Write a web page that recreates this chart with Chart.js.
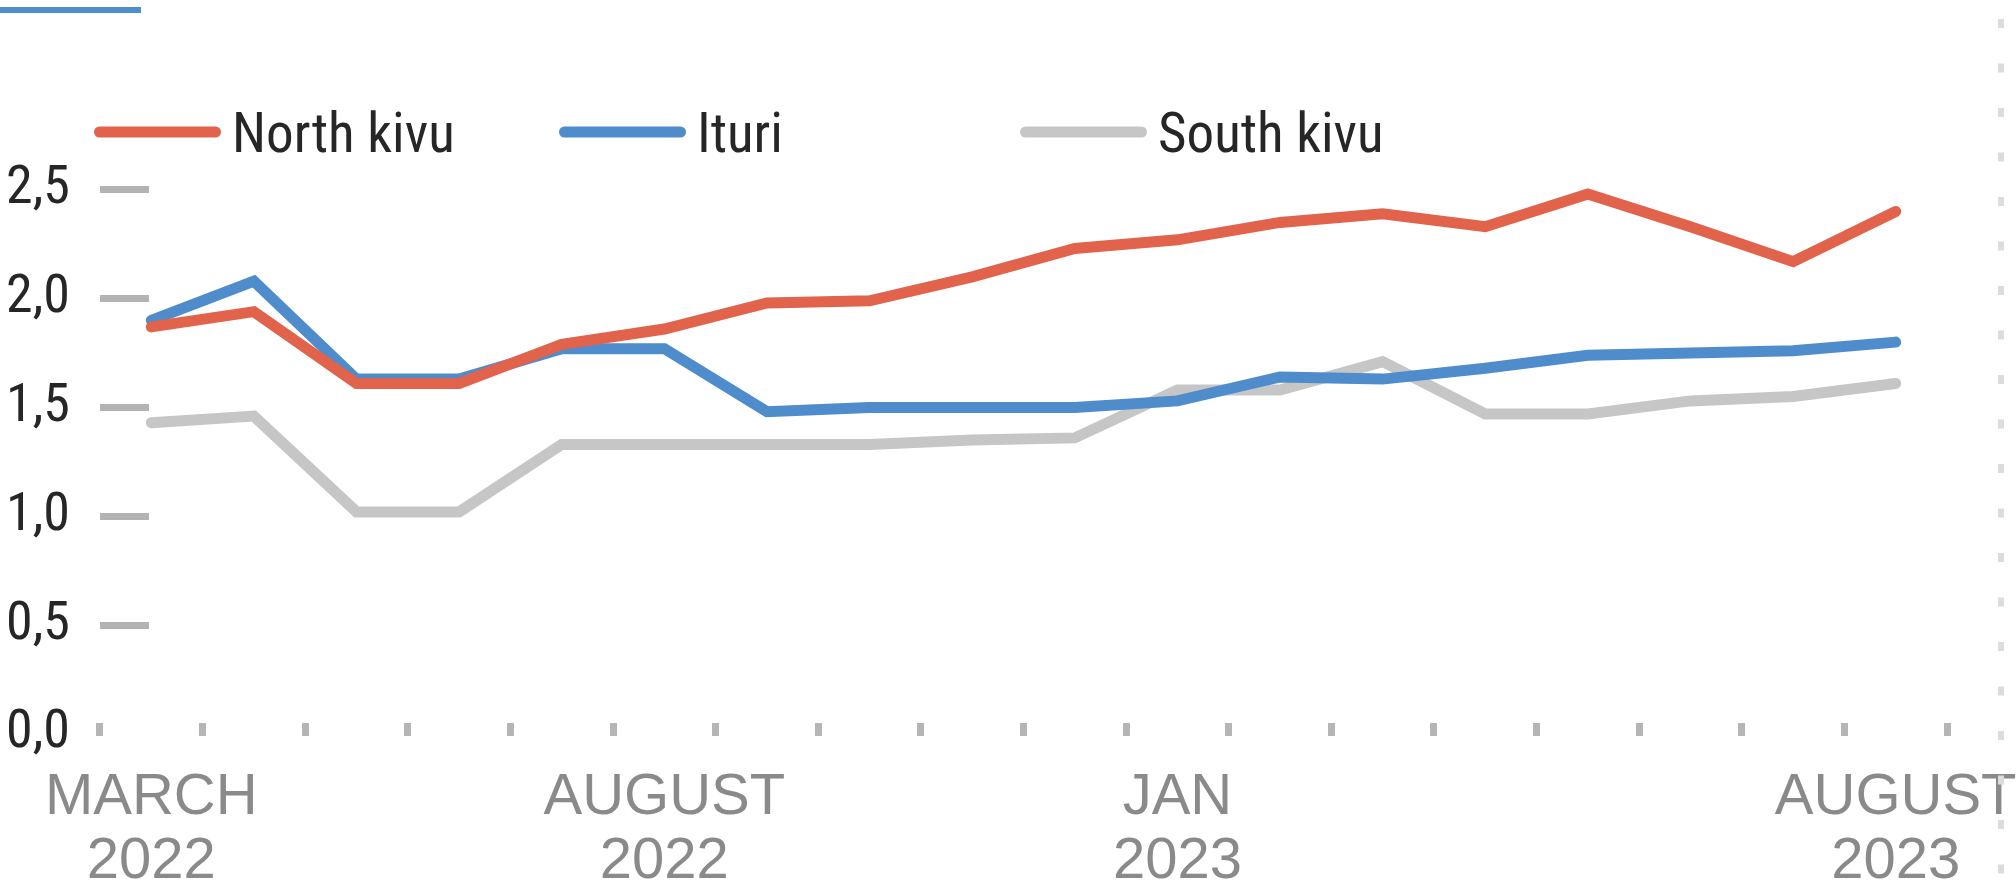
<!DOCTYPE html>
<html>
<head>
<meta charset="utf-8">
<script src="https://cdn.jsdelivr.net/npm/chart.js@4.4.0/dist/chart.umd.min.js"></script>
<style>
	html, body { margin: 0; padding: 0; background: #fff; }
	#wrap { width: 2016px; height: 893px; position: relative; }
</style>
</head>
<body>
<div id="wrap"><canvas id="provinceChart"></canvas></div>
<script>
// Monthly values, March 2022 - August 2023
const months = ['Mar 2022', 'Apr 2022', 'May 2022', 'Jun 2022', 'Jul 2022', 'Aug 2022', 'Sep 2022', 'Oct 2022', 'Nov 2022',
	'Dec 2022', 'Jan 2023', 'Feb 2023', 'Mar 2023', 'Apr 2023', 'May 2023', 'Jun 2023', 'Jul 2023', 'Aug 2023'];

const xLabels = [['MARCH', '2022'], '', '', '', '', ['AUGUST', '2022'], '', '', '', '', ['JAN', '2023'], '', '', '', '', '', '', ['AUGUST', '2023']];

const northKivu = [1.87, 1.94, 1.61, 1.61, 1.79, 1.86, 1.98, 1.99, 2.10, 2.23, 2.27, 2.35, 2.39, 2.33, 2.48, 2.33, 2.17, 2.40];
const ituri = [1.90, 2.08, 1.63, 1.63, 1.77, 1.77, 1.48, 1.50, 1.50, 1.50, 1.53, 1.64, 1.63, 1.68, 1.74, 1.75, 1.76, 1.80];
const southKivu = [1.43, 1.46, 1.02, 1.02, 1.33, 1.33, 1.33, 1.33, 1.35, 1.36, 1.58, 1.58, 1.71, 1.47, 1.47, 1.53, 1.55, 1.61];

const yTicks = [0, 0.5, 1, 1.5, 2, 2.5];

const narrowFont = "'Liberation Sans Narrow', 'Roboto Condensed', 'Arial Narrow', 'DejaVu Sans Condensed', sans-serif";
const wideFont = "'Liberation Sans', Arial, sans-serif";

// legend columns (left edge of each sample line)
const legendCols = [94, 559, 1020];

const decor = {
	id: 'decor',
	afterDraw(chart) {
		const ctx = chart.ctx;
		ctx.save();
		// short blue rule in the top-left corner
		ctx.fillStyle = '#4f8dcb';
		ctx.fillRect(0, 7, 141, 6);
		// dotted right border
		ctx.strokeStyle = '#dcdcdc';
		ctx.lineWidth = 6;
		ctx.setLineDash([9, 35.5]);
		ctx.beginPath();
		ctx.moveTo(2001, 19);
		ctx.lineTo(2001, 893);
		ctx.stroke();
		ctx.setLineDash([]);
		// legend
		chart.data.datasets.forEach((ds, i) => {
			const x = legendCols[i];
			ctx.strokeStyle = ds.borderColor;
			ctx.lineWidth = 11;
			ctx.lineCap = 'round';
			ctx.beginPath();
			ctx.moveTo(x + 5.5, 132);
			ctx.lineTo(x + 121.5, 132);
			ctx.stroke();
			ctx.fillStyle = '#262626';
			ctx.font = '55px ' + narrowFont;
			ctx.textBaseline = 'alphabetic';
			ctx.textAlign = 'left';
			ctx.fillText(ds.label, x + 138, 152);
		});
		ctx.restore();
	}
};

const lineStyle = {
	borderWidth: 11,
	pointRadius: 0,
	pointHoverRadius: 0,
	tension: 0,
	borderCapStyle: 'round',
	borderJoinStyle: 'miter',
	fill: false
};

new Chart(document.getElementById('provinceChart').getContext('2d'), {
	type: 'line',
	data: {
		labels: months,
		datasets: [
			{ label: 'North kivu', data: northKivu, borderColor: '#e2634c', ...lineStyle },
			{ label: 'Ituri', data: ituri, borderColor: '#4e8ccb', ...lineStyle },
			{ label: 'South kivu', data: southKivu, borderColor: '#c6c6c6', ...lineStyle }
		]
	},
	options: {
		responsive: true,
		maintainAspectRatio: false,
		devicePixelRatio: 1,
		animation: false,
		layout: { padding: { top: 168, right: 69, bottom: 0, left: 0 } },
		plugins: {
			legend: { display: false },
			tooltip: { enabled: false }
		},
		scales: {
			x: {
				type: 'category',
				offset: true,
				border: { display: false },
				grid: {
					offset: true,
					drawOnChartArea: false,
					drawTicks: true,
					tickLength: 13,
					tickWidth: 7,
					tickColor: '#b5b5b5'
				},
				ticks: {
					autoSkip: false,
					maxRotation: 0,
					minRotation: 0,
					padding: 30,
					color: '#8a8a8a',
					font: { family: wideFont, size: 58, lineHeight: 1.1 },
					callback: (value, index) => xLabels[index]
				},
				afterFit: scale => {
					scale.height = 170;
					scale.paddingLeft = 0;
					scale.paddingRight = 0;
				}
			},
			y: {
				min: 0.05,
				max: 2.6,
				border: { display: false },
				grid: {
					drawOnChartArea: false,
					drawTicks: true,
					tickLength: -49,
					tickWidth: 7,
					tickColor: ctx => ctx.tick && ctx.tick.value === 0 ? 'rgba(0,0,0,0)' : '#b3b3b3'
				},
				afterBuildTicks: axis => { axis.ticks = yTicks.map(v => ({ value: v })); },
				ticks: {
					padding: 79,
					color: '#262626',
					font: { family: narrowFont, size: 54 },
					callback: value => Number(value).toFixed(1).replace('.', ',')
				},
				afterFit: scale => { scale.width = 100; }
			}
		}
	},
	plugins: [decor]
});
</script>
</body>
</html>
